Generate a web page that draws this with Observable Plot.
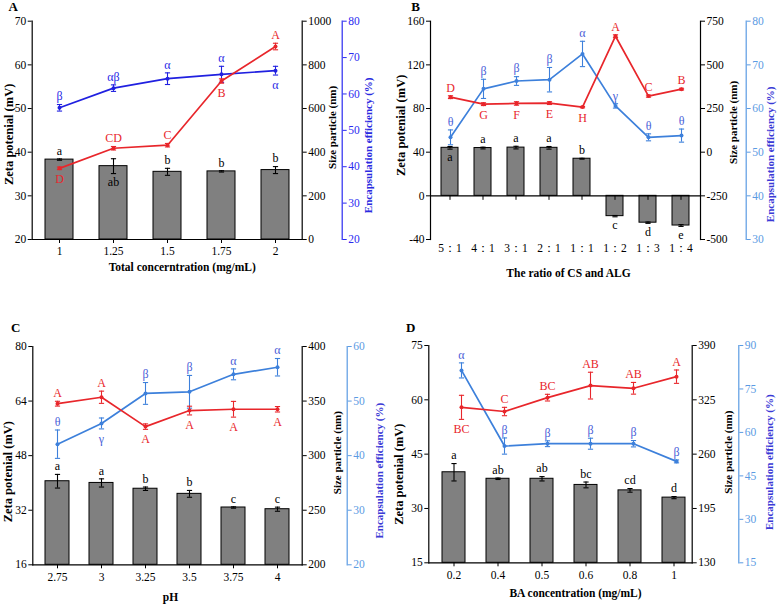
<!DOCTYPE html>
<html><head><meta charset="utf-8">
<script src="https://cdn.jsdelivr.net/npm/d3@7"></script>
<script src="https://cdn.jsdelivr.net/npm/@observablehq/plot@0.6"></script>
<style>
body{margin:0;background:#fff;}
#root{position:relative;width:778px;height:605px;overflow:hidden;background:#fff;}
.panel{position:absolute;}
.panel svg{position:absolute;left:0;top:0;max-width:none;font-family:"Liberation Serif","Times New Roman",serif !important;}
</style></head><body><div id="root"></div>
<script>
// ---------- Panel A ----------
const aCats = ["1","1.25","1.5","1.75","2"];
const aZeta = [38.3,36.8,35.5,35.6,35.9];
const aZetaErr = [0.15,1.7,0.8,0.15,0.8];
const aZetaLab = ["a","ab","b","b","b"];
const aZetaPos = ["t","b","t","t","t"];
const aSize = [326,418,432,726,884];
const aSizeErr = [6,8,8,10,15];
const aSizeLab = ["D","CD","C","B","A"];
const aSizePos = ["b","t","t","b","t"];
const aEnc = [56.2,61.6,64.2,65.4,66.4];
const aEncErr = [0.9,0.9,1.6,2.2,1.2];
const aEncLab = ["β","αβ","α","α","α"];
const aEncPos = ["t","t","t","t","b"];
const aZetaTicks = [20,30,40,50,60,70];
const aSizeTicks = [0,200,400,600,800,1000];
const aEncTicks = [20,30,40,50,60,70,80];

// ---------- Panel B ----------
const bCats = ["5：1","4：1","3：1","2：1","1：1","1：2","1：3","1：4"];
const bZeta = [44,43.8,44.2,44,34,-18.6,-24.6,-27.2];
const bZetaErr = [1.2,0.8,1.2,1.2,0.4,0.6,0.6,0.8];
const bZetaLab = ["a","a","a","a","b","c","d","e"];
const bZetaPos = ["b","t","t","t","t","b","b","b"];
const bSize = [315,275,279,281,258,664,321,361];
const bSizeErr = [8,8,10,8,4,8,6,5];
const bSizeLab = ["D","G","F","E","H","A","C","B"];
const bSizePos = ["t","b","b","b","b","t","t","t"];
const bEnc = [53.4,64.5,66.3,66.6,72.5,60.6,53.4,53.8];
const bEncErr = [1.7,2.2,1.0,2.8,2.9,0.5,0.8,1.5];
const bEncLab = ["θ","β","β","β","α","γ","θ","θ"];
const bEncPos = ["t","t","t","t","t","t","t","t"];
const bZetaTicks = [-40,0,40,80,120,160];
const bSizeTicks = [-500,-250,0,250,500,750];
const bEncTicks = [30,40,50,60,70,80];

// ---------- Panel C ----------
const cCats = ["2.75","3","3.25","3.5","3.75","4"];
const cZeta = [40.5,40,38.3,36.8,32.8,32.3];
const cZetaErr = [2,1.2,0.5,1,0.2,0.6];
const cZetaLab = ["a","a","b","b","c","c"];
const cZetaPos = ["t","t","t","t","t","t"];
const cSize = [347.6,353.5,326.6,341.3,342.5,342.5];
const cSizeErr = [2.2,5.6,2.5,4,7.2,2.5];
const cSizeLab = ["A","A","A","A","A","A"];
const cSizePos = ["t","t","b","b","b","b"];
const cEnc = [42.1,45.9,51.4,51.7,54.9,56.2];
const cEncErr = [2.6,1,2,3,1,1.6];
const cEncLab = ["θ","γ","β","β","α","α"];
const cEncPos = ["t","b","t","t","t","t"];
const cZetaTicks = [16,32,48,64,80];
const cSizeTicks = [200,250,300,350,400];
const cEncTicks = [20,30,40,50,60];

// ---------- Panel D ----------
const dCats = ["0.2","0.4","0.5","0.6","0.8","1"];
const dZeta = [40,38.2,38.2,36.5,35,33];
const dZetaErr = [2.4,0.2,0.6,0.8,0.5,0.3];
const dZetaLab = ["a","ab","ab","bc","cd","d"];
const dZetaPos = ["t","t","t","t","t","t"];
const dSize = [316,311,327.6,342,338.8,352.7];
const dSizeErr = [14.4,5,4,16,7,8];
const dSizeLab = ["BC","C","BC","AB","AB","A"];
const dSizePos = ["b","t","t","t","t","t"];
const dEnc = [81.4,55.3,56.1,56.1,56.1,50];
const dEncErr = [2.6,2.8,1,1.9,1.1,0.5];
const dEncLab = ["α","β","β","β","β","β"];
const dEncPos = ["t","t","t","t","t","t"];
const dZetaTicks = [15,30,45,60,75];
const dSizeTicks = [130,195,260,325,390];
const dEncTicks = [15,30,45,60,75,90];

// ---------- drawing ----------
const FONT = '"Liberation Serif","Times New Roman",serif';
const RED = "#e8262b";
const W = 389;
const fmt = d => String(d);

const hCap = {draw(ctx, size){ const r = Math.sqrt(size/Math.PI); ctx.moveTo(-r,0); ctx.lineTo(r,0); }};
const vTick = {draw(ctx, size){ const r = Math.sqrt(size/Math.PI); ctx.moveTo(0,0); ctx.lineTo(0,r); }};

function rows(cats, v, e, l, p){ return cats.map((c,i)=>({c, v:v[i], e:e[i], l:l[i], p:p[i]})); }

function errMarks(data, color, labColor){
  return [
    Plot.ruleX(data, {x:"c", y1:d=>d.v-d.e, y2:d=>d.v+d.e, stroke:color, strokeWidth:1.1}),
    Plot.dot(data, {x:"c", y:d=>d.v+d.e, symbol:hCap, r:2.6, stroke:color, strokeWidth:1.1}),
    Plot.dot(data, {x:"c", y:d=>d.v-d.e, symbol:hCap, r:2.6, stroke:color, strokeWidth:1.1}),
    Plot.text(data.filter(d=>d.p==="t"), {x:"c", y:d=>d.v+d.e, text:"l", dy:-8, fill:labColor, fontSize:12, textAnchor:"middle", lineAnchor:"middle"}),
    Plot.text(data.filter(d=>d.p==="b"), {x:"c", y:d=>d.v-d.e, text:"l", dy:10, fill:labColor, fontSize:12, textAnchor:"middle", lineAnchor:"middle"})
  ];
}
function lineMarks(data, color){
  return [
    Plot.line(data, {x:"c", y:"v", stroke:color, strokeWidth:1.7}),
    Plot.dot(data, {x:"c", y:"v", fill:color, r:2})
  ];
}

function panel(cfg){
  const div = document.createElement("div");
  div.className = "panel";
  Object.assign(div.style, {left:cfg.left+"px", top:cfg.top+"px", width:W+"px", height:cfg.height+"px"});
  const zeta = rows(cfg.cats, cfg.zeta, cfg.zetaErr, cfg.zetaLab, cfg.zetaPos);
  const size = rows(cfg.cats, cfg.size, cfg.sizeErr, cfg.sizeLab, cfg.sizePos);
  const enc = rows(cfg.cats, cfg.enc, cfg.encErr, cfg.encLab, cfg.encPos);
  const xBase = {domain:cfg.cats, paddingInner:cfg.pi, paddingOuter:cfg.po, align:cfg.align};
  const common = {width:W, height:cfg.height, marginTop:cfg.mt, marginBottom:cfg.mb, marginLeft:cfg.ml,
    style:{fontFamily:FONT, fontSize:"11px", background:"transparent", color:"#000", overflow:"visible"}};
  const base = cfg.zetaDomain[0] < 0 ? 0 : cfg.zetaDomain[0];
  const xAxisMarks = cfg.zeroAxis ? [
      Plot.ruleY([0], {stroke:"#000", strokeWidth:1.2}),
      Plot.dot(cfg.cats, {x:d=>d, y:0, symbol:vTick, r:4, stroke:"#000", strokeWidth:1}),
      Plot.axisX({tickSize:0, tickPadding:4, label:null, fontSize:11.5})
    ] : [
      Plot.frame({anchor:"bottom", strokeWidth:1.2}),
      Plot.axisX({tickSize:4, tickPadding:cfg.xPad, label:null, fontSize:11.5})
    ];
  const p1 = Plot.plot({...common, marginRight:cfg.mr,
    x:{...xBase, axis:null}, y:{domain:cfg.zetaDomain, axis:null},
    marks:[
      Plot.barY(zeta, {x:"c", y1:base, y2:"v", fill:"#808080", stroke:"#000", strokeWidth:1}),
      Plot.ruleX(zeta, {x:"c", y1:d=>d.v-d.e, y2:d=>d.v+d.e, stroke:"#000", strokeWidth:1.1}),
      Plot.dot(zeta, {x:"c", y:d=>d.v+d.e, symbol:hCap, r:2.6, stroke:"#000", strokeWidth:1.1}),
      Plot.dot(zeta, {x:"c", y:d=>d.v-d.e, symbol:hCap, r:2.6, stroke:"#000", strokeWidth:1.1}),
      Plot.text(zeta.filter(d=>d.p==="t"), {x:"c", y:d=>d.v+d.e, text:"l", dy:-8, fill:"#000", fontSize:12}),
      Plot.text(zeta.filter(d=>d.p==="b"), {x:"c", y:d=>d.v-d.e, text:"l", dy:8.5, fill:"#000", fontSize:12}),
      Plot.frame({anchor:"left", strokeWidth:1.2}),
      Plot.axisY({ticks:cfg.zetaTicks, tickFormat:fmt, tickSize:4, tickPadding:2, label:null, fontSize:11.5}),
      ...xAxisMarks,
      Plot.text([cfg.xTitle], {frameAnchor:"bottom", dx:cfg.xTitleDx, dy:cfg.xTitleDy, fontWeight:"bold", fontSize:11.5, textAnchor:"middle", lineAnchor:"middle"}),
      Plot.text(["Zeta potenial (mV)"], {frameAnchor:"left", rotate:-90, dx:cfg.lDx, dy:cfg.lDy, fontWeight:"bold", fontSize:12.5, textAnchor:"middle", lineAnchor:"middle"}),
      Plot.text([cfg.letter], {frameAnchor:"top-left", dx:cfg.letDx, dy:cfg.letDy, fontWeight:"bold", fontSize:13, textAnchor:"middle", lineAnchor:"middle"})
    ]});
  const p3 = Plot.plot({...common, marginRight:cfg.mr3,
    x:{...xBase, range:[cfg.ml, W-cfg.mr], axis:null}, y:{domain:cfg.encDomain, axis:null},
    marks:[
      Plot.frame({anchor:"right", stroke:cfg.axisBlue, strokeWidth:1.2}),
      Plot.axisY({anchor:"right", ticks:cfg.encTicks, tickFormat:fmt, tickSize:4, tickPadding:2, label:null, color:cfg.axisBlue, fontSize:11.5}),
      ...lineMarks(enc, cfg.lineBlue),
      ...errMarks(enc, cfg.lineBlue, cfg.greek),
      Plot.text(["Encapsulation efficiency (%)"], {frameAnchor:"right", rotate:-90, dx:cfg.eDx, dy:cfg.eDy, fill:cfg.titleBlue, fontWeight:"bold", fontSize:11, textAnchor:"middle", lineAnchor:"middle"})
    ]});
  const p2 = Plot.plot({...common, marginRight:cfg.mr,
    x:{...xBase, axis:null}, y:{domain:cfg.sizeDomain, axis:null},
    marks:[
      Plot.frame({anchor:"right", strokeWidth:1.2}),
      Plot.axisY({anchor:"right", ticks:cfg.sizeTicks, tickFormat:fmt, tickSize:4, tickPadding:2, label:null, fontSize:11.5}),
      ...lineMarks(size, RED),
      ...errMarks(size, RED, RED),
      Plot.text(["Size particle (nm)"], {frameAnchor:"right", rotate:-90, dx:cfg.sDx, dy:cfg.sDy, fontWeight:"bold", fontSize:11, textAnchor:"middle", lineAnchor:"middle"})
    ]});
  div.append(p1, p3, p2);
  document.getElementById("root").append(div);
}

panel({letter:"A", left:0, top:0, height:300, ml:31.7, mr:87.3, mr3:47.3, mt:20.7, mb:61,
  pi:0.49, po:0.245, align:0.5, xPad:3,
  cats:aCats, zeta:aZeta, zetaErr:aZetaErr, zetaLab:aZetaLab, zetaPos:aZetaPos,
  size:aSize, sizeErr:aSizeErr, sizeLab:aSizeLab, sizePos:aSizePos,
  enc:aEnc, encErr:aEncErr, encLab:aEncLab, encPos:aEncPos,
  zetaDomain:[20,70], sizeDomain:[0,1000], encDomain:[20,80],
  zetaTicks:aZetaTicks, sizeTicks:aSizeTicks, encTicks:aEncTicks,
  xTitle:"Total concerntration (mg/mL)", xTitleDx:15, xTitleDy:28,
  lDx:-23.5, lDy:4, sDx:30, sDy:-3, eDx:26.7, eDy:15,
  letDx:-19, letDy:-14, zeroAxis:false,
  axisBlue:"#2a2af0", lineBlue:"#2020e0", greek:"#2a2ae6", titleBlue:"#2a2ae0"});

panel({letter:"B", left:389, top:0, height:300, ml:41, mr:78, mr3:32.3, mt:20.7, mb:61,
  pi:0.49, po:0.245, align:0.5, xPad:3,
  cats:bCats, zeta:bZeta, zetaErr:bZetaErr, zetaLab:bZetaLab, zetaPos:bZetaPos,
  size:bSize, sizeErr:bSizeErr, sizeLab:bSizeLab, sizePos:bSizePos,
  enc:bEnc, encErr:bEncErr, encLab:bEncLab, encPos:bEncPos,
  zetaDomain:[-40,160], sizeDomain:[-500,750], encDomain:[30,80],
  zetaTicks:bZetaTicks, sizeTicks:bSizeTicks, encTicks:bEncTicks,
  xTitle:"The ratio of CS and ALG", xTitleDx:3, xTitleDy:34,
  lDx:-30, lDy:-5, sDx:33, sDy:-8, eDx:24.3, eDy:24,
  letDx:-15, letDy:-14, zeroAxis:true,
  axisBlue:"#5b9be3", lineBlue:"#3d80db", greek:"#4b5fd8", titleBlue:"#3a3ad6"});

panel({letter:"C", left:0, top:300, height:305, ml:32.3, mr:87.3, mr3:42.3, mt:46, mb:40.7,
  pi:0.46, po:0.236, align:0.5, xPad:4,
  cats:cCats, zeta:cZeta, zetaErr:cZetaErr, zetaLab:cZetaLab, zetaPos:cZetaPos,
  size:cSize, sizeErr:cSizeErr, sizeLab:cSizeLab, sizePos:cSizePos,
  enc:cEnc, encErr:cEncErr, encLab:cEncLab, encPos:cEncPos,
  zetaDomain:[16,80], sizeDomain:[200,400], encDomain:[20,60],
  zetaTicks:cZetaTicks, sizeTicks:cSizeTicks, encTicks:cEncTicks,
  xTitle:"pH", xTitleDx:3, xTitleDy:32.7,
  lDx:-25, lDy:16, sDx:35, sDy:-3, eDx:32.3, eDy:15,
  letDx:-17, letDy:-19, zeroAxis:false,
  axisBlue:"#5b9be3", lineBlue:"#3d80db", greek:"#4b5fd8", titleBlue:"#3a3ad6"});

panel({letter:"D", left:389, top:300, height:305, ml:39.3, mr:86.3, mr3:39.7, mt:45, mb:42.7,
  pi:0.48, po:0.167, align:0.67, xPad:4,
  cats:dCats, zeta:dZeta, zetaErr:dZetaErr, zetaLab:dZetaLab, zetaPos:dZetaPos,
  size:dSize, sizeErr:dSizeErr, sizeLab:dSizeLab, sizePos:dSizePos,
  enc:dEnc, encErr:dEncErr, encLab:dEncLab, encPos:dEncPos,
  zetaDomain:[15,75], sizeDomain:[130,390], encDomain:[15,90],
  zetaTicks:dZetaTicks, sizeTicks:dSizeTicks, encTicks:dEncTicks,
  xTitle:"BA concentration (mg/mL)", xTitleDx:15, xTitleDy:31,
  lDx:-30, lDy:20, sDx:36, sDy:-2, eDx:30.7, eDy:8,
  letDx:-18, letDy:-18, zeroAxis:false,
  axisBlue:"#5b9be3", lineBlue:"#3d80db", greek:"#4b5fd8", titleBlue:"#3a3ad6"});
</script>
</body></html>
